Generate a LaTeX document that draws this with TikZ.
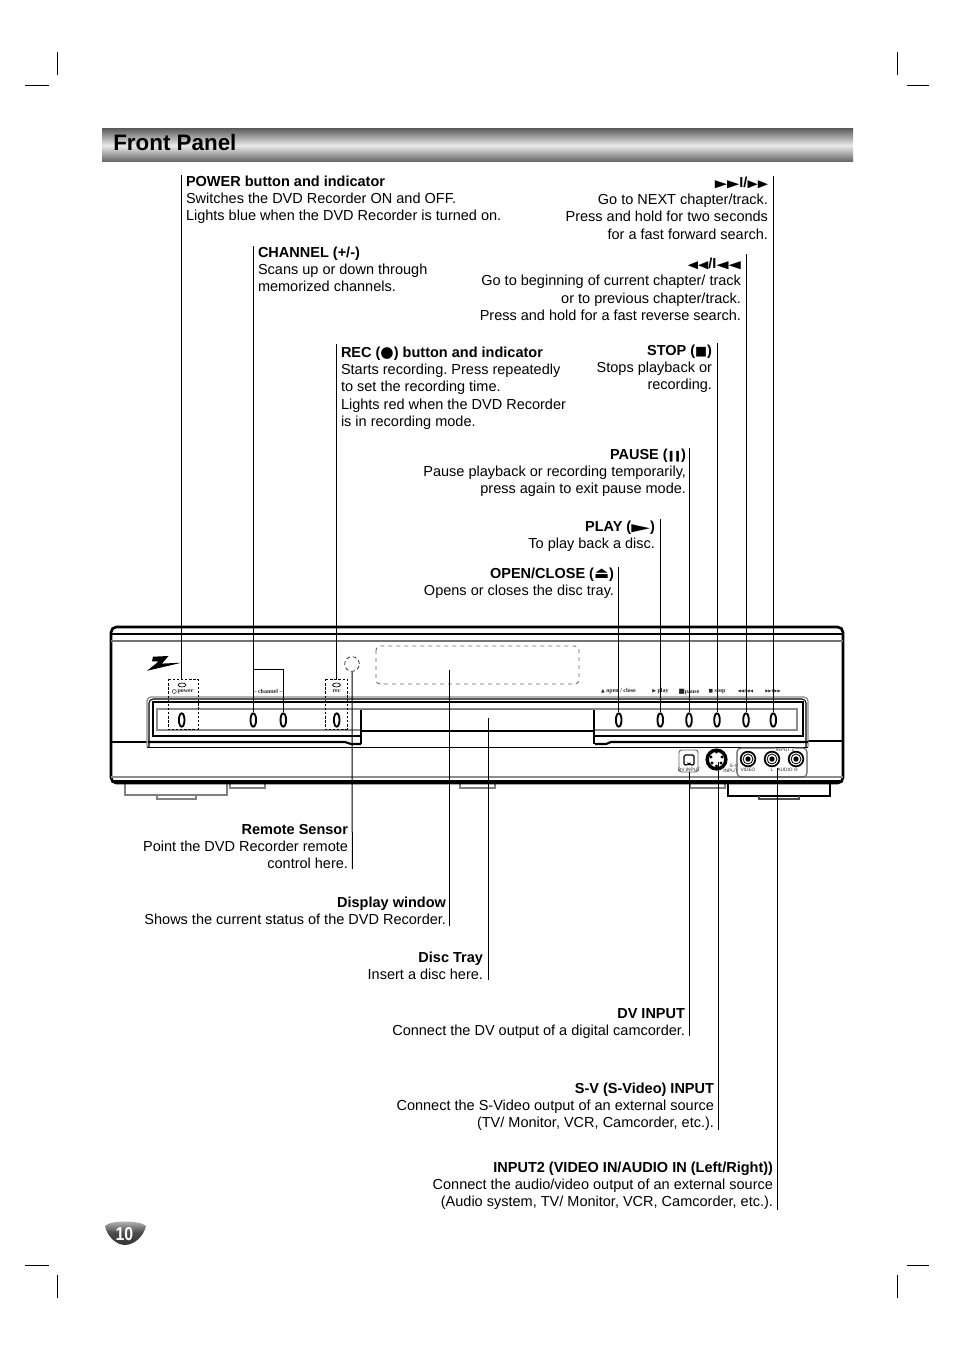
\documentclass[tikz,border=0pt]{standalone}
\usepackage{fontspec}
\setmainfont{Liberation Sans}
\newfontfamily\symf{DejaVu Sans}
\newfontfamily\tinyf{Liberation Serif}
\usetikzlibrary{shapes.geometric}
\frenchspacing
\newcommand{\fs}{\rule{0pt}{8.5pt}}
% \sy{size}{xscale}{glyphs}: a symbol of the given size, which does not disturb the line height
\newcommand{\sy}[3]{\smash{\scalebox{#2}[1]{\symf\fontsize{#1}{#1}\selectfont #3}}}
\tikzset{
  lbl/.style={inner sep=0pt,outer sep=0pt,font=\fontsize{10.88}{13}\selectfont},
  rlbl/.style={lbl,align=right,anchor=north east},
  llbl/.style={lbl,align=left,anchor=north west},
  leader/.style={draw=black,line width=.75pt},
  crop/.style={draw=black,line width=.5pt},
  btn/.style={draw=black,fill=white,line width=1.4pt,ellipse,inner sep=0pt,minimum width=4.2pt,minimum height=10pt},
  tiny/.style={inner sep=0pt,font=\tinyf\bfseries\fontsize{4.5}{4.5}\selectfont,text=black!85},
  tinyB/.style={inner sep=0pt,font=\fontsize{3.6}{3.6}\selectfont,text=black!85},
  dbox/.style={draw=black,dash pattern=on 1.8pt off 1.3pt,line width=.75pt},
  graye/.style={draw=black!45,line width=1pt},
  jack/.style={circle,draw=black,line width=1.3pt,fill=white,inner sep=0pt,minimum size=11pt},
}
\begin{document}
\begin{tikzpicture}[x=.75pt,y=-.75pt]
\useasboundingbox (0,0) rectangle (954,1351);
\fill[white] (0,0) rectangle (954,1351);
% crop marks
\draw[crop] (57,52)--(57,75) (25,85)--(49,85) (897,52)--(897,75) (907,85)--(929,85);
\draw[crop] (57,1275)--(57,1298) (25,1265)--(49,1265) (897,1275)--(897,1298) (907,1265)--(929,1265);
% header
\shade[top color=black!62,bottom color=black!62,middle color=black!8] (102,129) rectangle (853,162);
\node[inner sep=0pt,anchor=base west,font=\bfseries\fontsize{16.8}{20}\selectfont] (title) at (113,151) {Front Panel};
% feet
\draw[draw=black!50,line width=.8pt] (125,784)--(125,795)--(227,795)--(227,784);
\draw[draw=black!50,line width=.8pt] (157,795)--(157,799)--(196,799)--(196,795);
\draw[draw=black!50,line width=.8pt] (230,784)--(230,788)--(265,788)--(265,784);
\draw[draw=black!50,line width=.8pt] (460,784)--(460,788)--(495,788)--(495,784);
\draw[draw=black!50,line width=.8pt] (690,784)--(690,788)--(725,788)--(725,784);
\draw[draw=black,line width=.8pt] (728,784)--(728,796)--(830,796)--(830,784);
\draw[draw=black!70,line width=.8pt] (759,796)--(759,799)--(799,799)--(799,796);
% body
\draw[draw=black,line width=2pt,rounded corners=4pt,fill=white] (111,627) rectangle (843,783);
\draw[draw=black,line width=.8pt] (111,634)--(843,634);
\draw[draw=black!55,line width=.9pt] (111,641)--(843,641);
\draw[draw=black!45,line width=.9pt] (111,777)--(843,777);
\draw[draw=black,line width=.8pt] (111,781)--(843,781);
\draw[draw=black,line width=2.2pt] (111,742)--(147,742) (808,741)--(843,741);
% panel
\draw[graye,rounded corners=3pt] (147,747)--(147,697)--(808,697)--(808,747);
\draw[draw=black,line width=.8pt,rounded corners=3pt] (149,747)--(149,699)--(806,699)--(806,747);
\draw[draw=black,line width=.8pt] (147,747.5)--(808,747.5);
\draw[draw=black,line width=.9pt] (153,736)--(153,702)--(803,702)--(803,736)--cycle;
\draw[draw=black!45,line width=1pt] (157,730)--(157,709)--(797,709)--(797,730)--cycle;
\draw[draw=black,line width=1.6pt] (148,742)--(345,742)--(351,744)--(361,744);
\draw[draw=black,line width=1.6pt] (595,744)--(606,744)--(611,742)--(808,742);
\fill[white] (361,709) rectangle (594,744);
\draw[draw=black,line width=1pt] (361,744)--(361,709.5);
\draw[draw=black,line width=1.4pt] (594,744)--(594,709.5);
\draw[draw=black!55,line width=1.2pt] (361,709.5)--(594,709.5);
\draw[draw=black,line width=1.1pt] (361,731)--(594,731);
% logo
\fill[black] (153,656.7)--(168.5,656)--(162,663.6)--(181.5,662.7)--(147,670.8)--(158.5,661.6)--(152,661.2)--cycle;
% dashed zones
\draw[dbox] (168,679) rectangle (198,729);
\draw[dbox] (325,679) rectangle (347,729);
\draw[draw=black!60,dashed,line width=.7pt,rounded corners=3pt] (376,646) rectangle (579,684);
\node[circle,draw=black!80,densely dashed,line width=.6pt,minimum size=11pt,inner sep=0pt] (sensor) at (352,664) {};
% LEDs
\draw[draw=black,line width=.5pt] (182,685) ellipse (3pt and 1.5pt);
\draw[draw=black,line width=.5pt] (336.5,685) ellipse (3pt and 1.5pt);
% small legends
\draw[draw=black!85,line width=.35pt] (174.3,691.5) circle (1.5pt);
\node[tiny] (tpower) at (185.5,691.5) {power};
\node[tiny] (tchannel) at (268,691.5) {– channel –};
\node[tiny] (trec) at (336.5,691.5) {rec};
\node[tiny] (topen) at (618.5,691.5) {\symf\fontsize{3.6}{3.6}\selectfont ▲\tinyf\bfseries\fontsize{4.5}{4.5}\selectfont\ open / close};
\node[tiny] (tplay) at (660.5,691.5) {\symf\fontsize{3.6}{3.6}\selectfont ▶\tinyf\bfseries\fontsize{4.5}{4.5}\selectfont\ play};
\node[tiny] (tpause) at (689,691.5) {\symf\fontsize{5}{5}\selectfont ■\tinyf\bfseries\fontsize{4.5}{4.5}\selectfont pause};
\node[tiny] (tstop) at (717,691.5) {\symf\fontsize{3.6}{3.6}\selectfont ■\tinyf\bfseries\fontsize{4.5}{4.5}\selectfont\ stop};
\node[tiny] (trew) at (745.5,691.5) {\symf\fontsize{3}{3}\selectfont ◀◀/I◀◀};
\node[tiny] (tff) at (773,691.5) {\symf\fontsize{3}{3}\selectfont ▶▶I/▶▶};
% buttons
\node[btn] (bpower) at (181.7,720) {};
\node[btn] (bchA) at (253.3,720) {};
\node[btn] (bchB) at (283.3,720) {};
\node[btn] (brec) at (336.7,720) {};
\node[btn] (bopen) at (618.7,720) {};
\node[btn] (bplay) at (660.3,720) {};
\node[btn] (bpause) at (689,720) {};
\node[btn] (bstop) at (717,720) {};
\node[btn] (brew) at (746,720) {};
\node[btn] (bff) at (773.3,720) {};
% sockets
\draw[draw=black!60,line width=.7pt,rounded corners=2pt,fill=white] (679,750) rectangle (698,772);
\draw[draw=black,line width=.9pt,rounded corners=1pt] (684,755)--(694,755)--(694,765)--(690.5,765)--(689,763.5)--(687.5,765)--(684,765)--cycle;
\node[tinyB] (tdv) at (689,769.5) {DV INPUT};
\node[circle,draw=black,fill=white,line width=2.6pt,minimum size=14pt,inner sep=0pt] (sv) at (716.5,759.5) {};
\fill[black] (716.5,752) circle (1.2pt) (711,757) circle (1.2pt) (722,757) circle (1.2pt) (712,763) circle (1.2pt) (721,763) circle (1.2pt) (716.5,766) circle (1.2pt);
\node[tinyB,align=right,font=\fontsize{3.6}{4}\selectfont] (tsv) at (730.5,768.5) {S-V\\INPUT};
\draw[draw=black!65,line width=.8pt,rounded corners=3pt] (775,748)--(737,748)--(737,777)--(807,777)--(807,748)--(795,748);
\foreach \n/\x in {jA/748,jB/772,jC/796}{
  \node[jack] (\n) at (\x,759) {};
  \fill[black] (\x,759) circle (2pt);
  \draw[draw=black,line width=.6pt] (\x,759) circle (3.7pt);
}
\node[tinyB] (tinp) at (785,749.5) {INPUT 2};
\node[tinyB] (tvid) at (748,769.5) {VIDEO};
\node[tinyB] (taudio) at (785,769.5) {AUDIO};
\node[tinyB] (tr) at (796,769.5) {R};
\node[tinyB] (tl) at (772,769.5) {L};
% texts
\node[llbl] (lpower) at (186,174.7) {\fs\textbf{POWER button and indicator}\\Switches the DVD Recorder ON and OFF.\\Lights blue when the DVD Recorder is turned on.};
\node[llbl] (lchan) at (258,245.7) {\fs\textbf{CHANNEL (+/-)}\\Scans up or down through\\memorized channels.};
\node[llbl] (lrec) at (341,345.7) {\fs\textbf{REC (\sy{11.5}{1}{●}) button and indicator}\\Starts recording. Press repeatedly\\to set the recording time.\\Lights red when the DVD Recorder\\is in recording mode.};
\node[rlbl] (lff) at (768,175.7) {\fs\sy{8}{1.5}{▶▶}\textbf{I/}\sy{8}{1.25}{▶▶}\\Go to NEXT chapter/track.\\Press and hold for two seconds\\for a fast forward search.};
\node[rlbl] (lrew) at (741,257.2) {\fs\sy{8}{1.25}{◀◀}\textbf{/I}\sy{8}{1.5}{◀◀}\\Go to beginning of current chapter/ track\\or to previous chapter/track.\\Press and hold for a fast reverse search.};
\node[rlbl] (lstop) at (712,343.7) {\fs\textbf{STOP (\sy{9.5}{1}{■})}\\Stops playback or\\recording.};
\node[rlbl] (lpause) at (686,447.7) {\fs\textbf{PAUSE (\sy{8}{.75}{❚❚})}\\Pause playback or recording temporarily,\\press again to exit pause mode.};
\node[rlbl] (lplay) at (655,519.7) {\fs\textbf{PLAY (\sy{8}{2.3}{▶})}\\To play back a disc.};
\node[rlbl] (lopen) at (614,566.7) {\fs\textbf{OPEN/CLOSE (\sy{12}{1}{⏏})}\\Opens or closes the disc tray.};
\node[rlbl] (lsens) at (348,822.7) {\fs\textbf{Remote Sensor}\\Point the DVD Recorder remote\\control here.};
\node[rlbl] (ldisp) at (446,895.7) {\fs\textbf{Display window}\\Shows the current status of the DVD Recorder.};
\node[rlbl] (ltray) at (483,950.7) {\fs\textbf{Disc Tray}\\Insert a disc here.};
\node[rlbl] (ldv) at (685,1006.7) {\fs\textbf{DV INPUT}\\Connect the DV output of a digital camcorder.};
\node[rlbl] (lsv) at (714,1081.7) {\fs\textbf{S-V (S-Video) INPUT}\\Connect the S-Video output of an external source\\(TV/ Monitor, VCR, Camcorder, etc.).};
\node[rlbl] (lin) at (773,1160.7) {\fs\textbf{INPUT2 (VIDEO IN/AUDIO IN (Left/Right))}\\Connect the audio/video output of an external source\\(Audio system, TV/ Monitor, VCR, Camcorder, etc.).};
% leader ends
\coordinate (epower) at (181.7,175);
\coordinate (echan) at (253.3,246);
\coordinate (erec) at (336.7,344);
\coordinate (eff) at (773.3,176);
\coordinate (erew) at (746,254);
\coordinate (estop) at (717,343);
\coordinate (epause) at (689,448);
\coordinate (eplay) at (660.3,519);
\coordinate (eopen) at (618.7,567);
\coordinate (esens) at (352.3,869);
\coordinate (edisp) at (449.5,926);
\coordinate (etray) at (488,980);
\coordinate (edv) at (689,1036);
\coordinate (esv) at (718.5,1130);
\coordinate (ein) at (777.5,1210);
\coordinate (zpower) at (181.7,679);
\coordinate (zrec) at (336.7,679);
\coordinate (zdisp) at (449.5,670);
\coordinate (ztray) at (488,718);
\coordinate (zdv) at (689,772);
\coordinate (zsv) at (718.5,762);
\coordinate (zin) at (777.5,768);
\coordinate (zch) at (253.3,669);
\draw[leader] (epower)--(zpower);
\draw[leader] (echan)--(bchA.north);
\draw[leader] (zch)-|(bchB.north);
\draw[leader] (erec)--(zrec);
\draw[leader] (eff)--(bff.north);
\draw[leader] (erew)--(brew.north);
\draw[leader] (estop)--(bstop.north);
\draw[leader] (epause)--(bpause.north);
\draw[leader] (eplay)--(bplay.north);
\draw[leader] (eopen)--(bopen.north);
\draw[leader] (esens)--(sensor.south);
\draw[leader] (edisp)--(zdisp);
\draw[leader] (etray)--(ztray);
\draw[leader] (edv)--(zdv);
\draw[leader] (esv)--(zsv);
\draw[leader] (ein)--(zin);
% page number
\shade[top color=black!25,bottom color=black!80,middle color=black!70] (105,1226) .. controls (110,1220) and (140,1220) .. (146,1226) .. controls (144,1236) and (134,1245) .. (125,1245) .. controls (116,1245) and (107,1236) .. (105,1226) -- cycle;
\node[inner sep=0pt,text=white,font=\bfseries\fontsize{14}{14}\selectfont,xscale=.85] (pageno) at (124.5,1234) {10};
\end{tikzpicture}
\end{document}
